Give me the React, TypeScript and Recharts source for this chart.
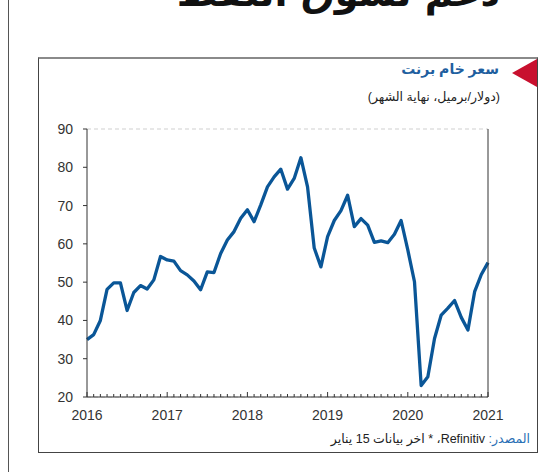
import { LineChart, Line, XAxis, YAxis, CartesianGrid } from 'recharts'

// Brent month-end price, Jan 2016 .. Jan 2021 (USD/bbl)
const brent = [
  35.0, 36.3, 40.0, 48.1, 49.8, 49.8, 42.6, 47.3, 49.1, 48.2, 50.6, 56.7,
  55.8, 55.5, 53.0, 51.9, 50.3, 48.0, 52.7, 52.5, 57.5, 61.0, 63.2, 66.7,
  68.9, 65.8, 70.2, 74.9, 77.5, 79.5, 74.3, 77.1, 82.5, 74.9, 58.9, 54.0,
  61.9, 66.1, 68.7, 72.7, 64.5, 66.6, 64.9, 60.4, 60.8, 60.3, 62.5, 66.1,
  58.4, 50.1, 23.0, 25.3, 35.3, 41.4, 43.2, 45.2, 40.8, 37.5, 47.5, 52.0,
  55.1,
]
const years = ['2016', '2017', '2018', '2019', '2020', '2021']
const yTicks = [20, 30, 40, 50, 60, 70, 80, 90]

const data = brent.map((v, i) => ({ m: i, price: v }))
const monthTicks = brent.map((_, i) => i)

const AXIS_Y = 287
const TXT = '#333'
const FONT = '"Liberation Sans", Arial, "DejaVu Sans", sans-serif'

function MonthTick(props: any) {
  const { x, payload } = props
  const isYear = payload.value % 12 === 0
  return (
    <g>
      <line x1={x} x2={x} y1={AXIS_Y} y2={AXIS_Y - (isYear ? 5 : 3)} stroke={TXT} strokeWidth={1} />
      {isYear && (
        <text x={x} y={AXIS_Y + 23} textAnchor="middle" fill={TXT} fontSize={14} fontFamily={FONT}>
          {years[payload.value / 12]}
        </text>
      )}
    </g>
  )
}

export default function App() {
  return (
    <div style={{ position: 'absolute', left: 0, top: 0, width: 557, height: 472, overflow: 'hidden', background: '#fff', fontFamily: FONT }}>
      {/* page headline, cut by the top edge as in the source page */}
      <div dir="rtl" style={{ position: 'absolute', right: 57, top: -29, fontSize: 38, fontWeight: 900, color: '#111', fontFamily: '"DejaVu Sans", sans-serif', whiteSpace: 'nowrap', lineHeight: '44px' }}>
        دعم لسوق النفط
      </div>
      <div style={{ position: 'absolute', left: 8, top: 0, width: 1, height: 472, background: '#555' }} />

      <div style={{ position: 'absolute', left: 38, top: 57, width: 498, height: 393, borderTop: '2px solid #8a8a8a', borderLeft: '1px solid #444', borderRight: '1px solid #444', borderBottom: '1px solid #444' }} />

      <svg style={{ position: 'absolute', left: 512, top: 59 }} width={26} height={30}>
        <polygon points="0,14 25,0 25,28" fill="#c8102e" />
      </svg>

      <div dir="rtl" style={{ position: 'absolute', right: 58, top: 61, fontSize: 14, fontWeight: 'bold', color: '#1f5f9f' }}>
        سعر خام برنت
      </div>
      <div dir="rtl" style={{ position: 'absolute', right: 57, top: 89, fontSize: 12.5, color: '#222' }}>
        (دولار/برميل، نهاية الشهر)
      </div>

      <div style={{ position: 'absolute', left: 37, top: 110 }}>
        <LineChart width={500} height={320} data={data} margin={{ top: 19, right: 0, bottom: 3, left: 0 }}>
          <CartesianGrid vertical={false} stroke="#cfcfcf" strokeDasharray="4 3" />
          <XAxis
            dataKey="m"
            type="number"
            domain={[0, 60]}
            ticks={monthTicks}
            interval={0}
            tick={<MonthTick />}
            tickLine={false}
            height={30}
            stroke={TXT}
          />
          <YAxis
            yAxisId="l"
            domain={[20, 90]}
            ticks={yTicks}
            width={50}
            tickSize={4}
            tickMargin={10}
            stroke={TXT}
            tick={{ fill: TXT, fontSize: 14 }}
          />
          <YAxis
            yAxisId="r"
            orientation="right"
            domain={[20, 90]}
            ticks={yTicks}
            width={49}
            tickSize={4}
            tickMargin={10}
            stroke={TXT}
            tick={{ fill: TXT, fontSize: 14 }}
          />
          <Line
            yAxisId="l"
            dataKey="price"
            type="linear"
            stroke="#0a5697"
            strokeWidth={3.3}
            dot={false}
            strokeLinejoin="round"
            isAnimationActive={false}
          />
        </LineChart>
      </div>

      <div dir="rtl" style={{ position: 'absolute', right: 27, top: 431, fontSize: 12.5, color: '#222', whiteSpace: 'nowrap' }}>
        <span style={{ color: '#2a6fb5' }}>المصدر:</span> Refinitiv، * اخر بيانات 15 يناير
      </div>
    </div>
  )
}
